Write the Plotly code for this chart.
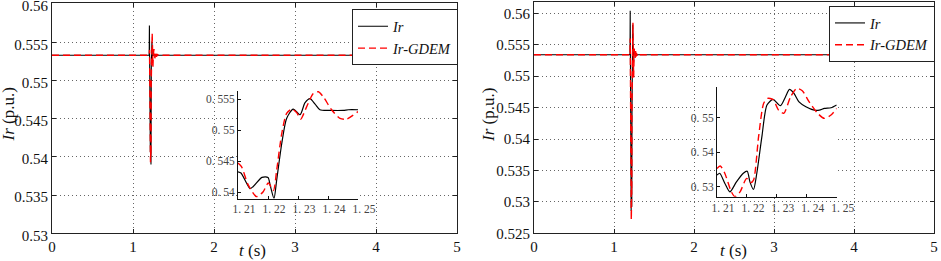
import plotly.graph_objects as go

W, H = 941, 261

# ---------------- data ----------------
# Left panel
t_pre_L = [0.0, 1.200, 1.2025, 1.205, 1.2075]
ir_pre_L = [0.5533, 0.5533, 0.5572, 0.5470, 0.5445]
tg_pre_L = [0.0, 1.200, 1.204, 1.2075]
gd_pre_L = [0.5533, 0.5533, 0.5540, 0.5450]

t_zoom_L = [1.210, 1.211, 1.214, 1.215, 1.218, 1.220, 1.2207, 1.222, 1.2229, 1.2246,
            1.2262, 1.2284, 1.2307, 1.2323, 1.234, 1.2357, 1.2373, 1.2407, 1.2451, 1.2468, 1.250]
ir_zoom_L = [0.5433, 0.5431, 0.5406, 0.5409, 0.5424, 0.5424, 0.5412, 0.5390, 0.5420, 0.5479,
             0.5519, 0.5534, 0.5525, 0.5544, 0.5551, 0.5542, 0.5533, 0.5532, 0.5532, 0.5533, 0.5533]
tg_zoom_L = [1.210, 1.2112, 1.2134, 1.2162, 1.2184, 1.2201, 1.2218, 1.2229, 1.2246, 1.2262,
             1.2279, 1.2296, 1.2309, 1.2329, 1.2351, 1.2368, 1.2384, 1.2412, 1.244, 1.2462, 1.250]
gd_zoom_L = [0.5447, 0.5441, 0.5412, 0.5393, 0.5401, 0.5415, 0.5403, 0.5436, 0.5495, 0.5527,
             0.5534, 0.5528, 0.5518, 0.5538, 0.5559, 0.5562, 0.5554, 0.5533, 0.5519, 0.5518, 0.5530]

t_post_L = [1.26, 5.0]
ir_post_L = [0.5533, 0.5533]
tg_post_L = [1.255, 1.26, 1.265, 1.27, 1.28, 1.29, 1.30, 1.32, 5.0]
gd_post_L = [0.5538, 0.5541, 0.5537, 0.5529, 0.5536, 0.5531, 0.5534, 0.5533, 0.5533]

# Right panel
t_pre_R = [0.0, 1.200, 1.2025, 1.205, 1.2075]
ir_pre_R = [0.5534, 0.5534, 0.5604, 0.5400, 0.5345]
tg_pre_R = [0.0, 1.200, 1.203, 1.206, 1.2085]
gd_pre_R = [0.5534, 0.5534, 0.5560, 0.5470, 0.5365]

t_zoom_R = [1.21, 1.2109, 1.2126, 1.2143, 1.2165, 1.2188, 1.2201, 1.221, 1.2222, 1.2233, 1.225, 1.2267,
            1.2287, 1.2312, 1.2329, 1.2342, 1.2357, 1.2374, 1.2397, 1.2425, 1.2442, 1.2459, 1.2481, 1.25]
ir_zoom_R = [0.5334, 0.5339, 0.5310, 0.5285, 0.5314, 0.5339, 0.5345, 0.5314, 0.5292, 0.5339, 0.5445, 0.5537,
             0.5553, 0.5535, 0.5561, 0.5582, 0.5571, 0.5546, 0.5532, 0.5522, 0.5522, 0.5527, 0.5529, 0.5537]
tg_zoom_R = [1.21, 1.2111, 1.2126, 1.2148, 1.216, 1.2177, 1.2199, 1.2213, 1.2222, 1.2239, 1.2256, 1.2269,
             1.2287, 1.2306, 1.2323, 1.2346, 1.2366, 1.2385, 1.2408, 1.2436, 1.2459, 1.2481, 1.25]
gd_zoom_R = [0.5353, 0.5360, 0.5339, 0.5285, 0.5271, 0.5285, 0.5324, 0.5312, 0.5319, 0.5445, 0.5542, 0.5556,
             0.5553, 0.5522, 0.5513, 0.5561, 0.5585, 0.5578, 0.5546, 0.5513, 0.5498, 0.5508, 0.5527]

t_post_R = [1.255, 1.26, 1.27, 5.0]
ir_post_R = [0.5537, 0.5535, 0.5534, 0.5534]
tg_post_R = [1.255, 1.26, 1.265, 1.27, 1.275, 1.28, 1.29, 1.30, 1.32, 5.0]
gd_post_R = [0.5545, 0.5544, 0.5528, 0.5540, 0.5530, 0.5537, 0.5532, 0.5535, 0.5534, 0.5534]

x_ticks = [0, 1, 2, 3, 4, 5]
y_ticks_L = [0.53, 0.535, 0.54, 0.545, 0.55, 0.555, 0.56]
y_ticks_R = [0.525, 0.53, 0.535, 0.54, 0.545, 0.55, 0.555, 0.56]
ins_x_ticks = [1.21, 1.22, 1.23, 1.24, 1.25]
ins_x_text = ["1. 21", "1. 22", "1. 23", "1. 24", "1. 25"]
ins_y_ticks_L = [0.54, 0.545, 0.55, 0.555]
ins_y_text_L = ["0. 54", "0. 545", "0. 55", "0. 555"]
ins_y_ticks_R = [0.53, 0.54, 0.55]
ins_y_text_R = ["0. 53", "0. 54", "0. 55"]

names = ["<i>Ir</i>", "<i>Ir-GDEM</i>"]

# ---------------- helpers ----------------
def px(x):
    return x / W

def py(y):
    return 1 - y / H

BLACK = "#000000"
RED = "#ff0000"
DASH = "7px,4px"
SERIF = "Liberation Serif"

fig = go.Figure()

def add_main(xa, ya, tp, ip, tz, iz, tq, iq, gtp, gp, gtz, gz, gtq, gq, legend):
    fig.add_trace(go.Scatter(x=tp + tz + tq, y=ip + iz + iq, mode="lines", name=names[0],
                             line=dict(color=BLACK, width=1.1), xaxis=xa, yaxis=ya, legend=legend))
    fig.add_trace(go.Scatter(x=gtp + gtz + gtq, y=gp + gz + gq, mode="lines", name=names[1],
                             line=dict(color=RED, width=1.4, dash=DASH), xaxis=xa, yaxis=ya, legend=legend))

def add_inset(xa, ya, tz, iz, gtz, gz):
    fig.add_trace(go.Scatter(x=tz, y=iz, mode="lines", showlegend=False,
                             line=dict(color=BLACK, width=1.2, shape="spline", smoothing=0.7),
                             xaxis=xa, yaxis=ya))
    fig.add_trace(go.Scatter(x=gtz, y=gz, mode="lines", showlegend=False,
                             line=dict(color=RED, width=1.4, dash=DASH, shape="spline", smoothing=0.7),
                             xaxis=xa, yaxis=ya))

add_main("x", "y", t_pre_L, ir_pre_L, t_zoom_L, ir_zoom_L, t_post_L, ir_post_L,
         tg_pre_L, gd_pre_L, tg_zoom_L, gd_zoom_L, tg_post_L, gd_post_L, "legend")
add_main("x2", "y2", t_pre_R, ir_pre_R, t_zoom_R, ir_zoom_R, t_post_R, ir_post_R,
         tg_pre_R, gd_pre_R, tg_zoom_R, gd_zoom_R, tg_post_R, gd_post_R, "legend2")
add_inset("x3", "y3", t_zoom_L, ir_zoom_L, tg_zoom_L, gd_zoom_L)
add_inset("x4", "y4", t_zoom_R, ir_zoom_R, tg_zoom_R, gd_zoom_R)

main_ax = dict(showline=True, linecolor="#222", linewidth=1, mirror="ticks",
               ticks="inside", ticklen=4, tickcolor="#222", automargin=False,
               ticklabeloverflow="allow",
               showgrid=True, gridcolor="#666", griddash="1px,3px", gridwidth=1,
               zeroline=False, tickfont=dict(family=SERIF, size=15, color="#111"))

ins_ax = dict(showline=True, linecolor="#111", linewidth=1, mirror=False, automargin=False,
              ticklabeloverflow="allow",
              ticks="inside", ticklen=3, tickcolor="#111", showgrid=False, zeroline=False,
              tickfont=dict(family=SERIF, size=11.5, color="#444"))

fig.update_layout(
    width=W, height=H, margin=dict(l=0, r=0, t=0, b=0, autoexpand=False),
    paper_bgcolor="white", plot_bgcolor="white",
    xaxis=dict(domain=[px(52), px(457)], range=[0, 5], tickvals=x_ticks, anchor="y", **main_ax),
    yaxis=dict(domain=[py(233.3), py(3.3)], range=[0.53, 0.5601], tickvals=y_ticks_L,
               ticktext=[f"{v:g}" for v in y_ticks_L], anchor="x", ticklabelshift=2, **main_ax),
    xaxis2=dict(domain=[px(534), px(934)], range=[0, 5], tickvals=x_ticks, anchor="y2", **main_ax),
    yaxis2=dict(domain=[py(233.3), py(2)], range=[0.525, 0.5618], tickvals=y_ticks_R,
                ticktext=[f"{v:g}" for v in y_ticks_R], anchor="x2", **main_ax),
    xaxis3=dict(domain=[px(238), px(358)], range=[1.21, 1.25], tickvals=ins_x_ticks,
                ticktext=ins_x_text, anchor="y3", ticklabelshift=6, **ins_ax),
    yaxis3=dict(domain=[py(198.5), py(90.5)], range=[0.5390, 0.5564], tickvals=ins_y_ticks_L,
                ticktext=ins_y_text_L, anchor="x3", **ins_ax),
    xaxis4=dict(domain=[px(717), px(836.7)], range=[1.21, 1.25], tickvals=ins_x_ticks,
                ticktext=ins_x_text, anchor="y4", ticklabelshift=6, **ins_ax),
    yaxis4=dict(domain=[py(196.7), py(86.7)], range=[0.5271, 0.559], tickvals=ins_y_ticks_R,
                ticktext=ins_y_text_R, anchor="x4", **ins_ax),
    legend=dict(x=px(352), y=py(9.3), xanchor="left", yanchor="top",
                bgcolor="white", bordercolor="#222", borderwidth=1,
                font=dict(family=SERIF, size=14.5, color="#111"), tracegroupgap=0),
    legend2=dict(x=px(829), y=py(6), xanchor="left", yanchor="top",
                 bgcolor="white", bordercolor="#222", borderwidth=1,
                 font=dict(family=SERIF, size=14.5, color="#111"), tracegroupgap=0),
    showlegend=True,
)

ann_font = dict(family=SERIF, size=17, color="#111")
for xc in (8.5, 489):
    fig.add_annotation(x=px(xc), y=py(115), xref="paper", yref="paper", text="<i>Ir</i> (p.u.)",
                       textangle=-90, showarrow=False, font=ann_font, xanchor="center", yanchor="middle")
for xc in (253, 733):
    fig.add_annotation(x=px(xc), y=py(250), xref="paper", yref="paper", text="<i>t</i> (s)",
                       showarrow=False, font=ann_font, xanchor="center", yanchor="middle")

fig.write_html("out.html", config={"displayModeBar": False},
               post_script="document.body.style.margin='0';document.body.style.overflow='hidden';")
